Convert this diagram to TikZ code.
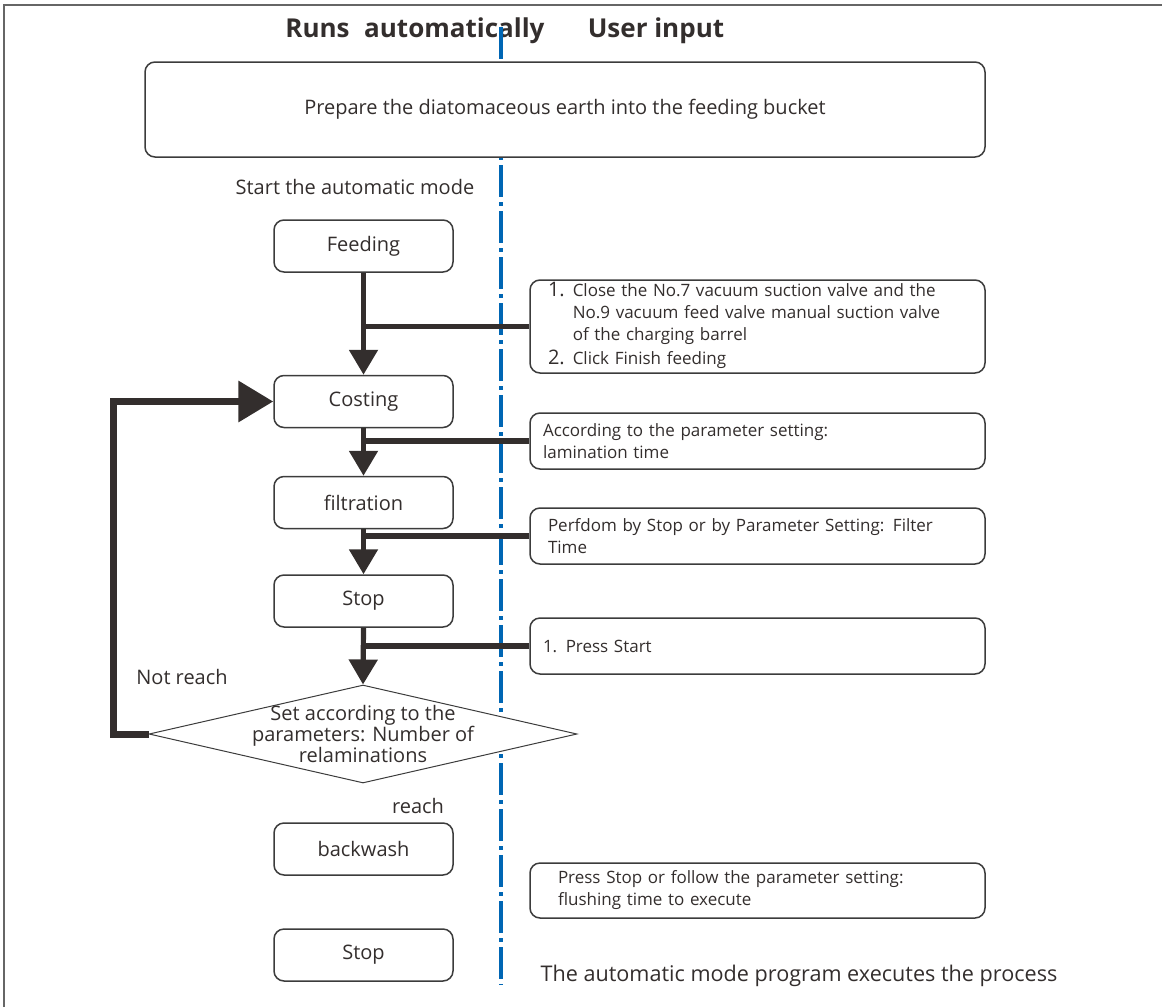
\documentclass[tikz,border=0pt]{standalone}
\usepackage{fontspec}
\setmainfont{Open Sans}
\usetikzlibrary{arrows.meta,shapes.geometric}
\definecolor{ink}{RGB}{51,46,45}
\definecolor{laneblue}{RGB}{0,102,180}
\definecolor{boxedge}{RGB}{60,60,60}
\begin{document}
\begin{tikzpicture}
[x=0.5pt,y=-0.5pt,
 every node/.style={font=\fontsize{10}{12}\selectfont,text=ink},
 head/.style={font=\fontsize{13}{15}\selectfont\bfseries},
 proc/.style={rectangle,rounded corners=5pt,draw=boxedge,line width=0.75pt,fill=white,
   minimum width=89.5pt,minimum height=26pt},
 note/.style={rectangle,rounded corners=5pt,draw=boxedge,line width=0.75pt,fill=white,
   minimum width=227.5pt,inner xsep=0pt,inner ysep=0pt,text width=#1,align=left,
   font=\fontsize{8.5}{11}\selectfont},
 decide/.style={diamond,draw=boxedge,line width=0.5pt,fill=white,inner sep=0pt,
   minimum width=214pt,minimum height=49pt},
 lane/.style={draw=laneblue,line width=2.2pt,dash pattern=on 16pt off 2.5pt on 2pt off 2.5pt},
 link/.style={draw=ink,line width=2.6pt},
 flow/.style={link,-{Triangle[width=14pt,length=12.5pt]}},
 back/.style={draw=ink,line width=3.5pt,-{Triangle[width=20pt,length=17.5pt]}}]
\useasboundingbox (0,0) rectangle (1162,1007);
\draw[gray!80!black,line width=1pt] (4,1007) -- (4,5) -- (1162,5);
\node [head] (hdrAuto) at (415,31) {Runs\hspace{0.3em} automatically};
\node [head] (hdrUser) at (656,31) {User input};
\coordinate (laneTop) at (501,27);
\coordinate (laneBot) at (501,985);
\draw[lane] (laneTop) -- (laneBot);
\node [rectangle,rounded corners=5pt,draw=boxedge,line width=0.75pt,fill=white,
  minimum width=420pt,minimum height=47.5pt] (prep) at (565,109.5)
  {Prepare the diatomaceous earth into the feeding bucket};
\node [] (startTxt) at (355,187) {Start the automatic mode};
\node [proc] (feed) at (363.5,246) {Feeding};
\node [proc] (cost) at (363.5,401.5) {Costing};
\node [proc] (filt) at (363.5,502.5) {filtration};
\node [proc] (stop) at (363.5,601) {Stop};
\node [decide,label={[name=decTxt,align=center,font=\fontsize{10}{10.5}\selectfont]center:Set according to the\\parameters: Number of\\relaminations}] (dec) at (363,734) {};
\node [proc] (wash) at (363.5,849) {backwash};
\node [proc] (stopEnd) at (363.5,955) {Stop};
\node [note=209.5pt,minimum height=46.5pt] (noteFeed) at (757.5,326.5)
  {\begin{tabular}{@{}l@{\hspace{4pt}}l@{}}
   {\fontsize{10}{11}\selectfont 1.} & Close the No.7 vacuum suction valve and the\\
   & No.9 vacuum feed valve manual suction valve\\
   & of the charging barrel\\[1pt]
   {\fontsize{10}{11}\selectfont 2.} & Click Finish feeding
   \end{tabular}};
\node [note=214.5pt,minimum height=28pt] (noteCost) at (757.5,441)
  {According to the parameter setting:\\lamination time};
\node [note=209.5pt,minimum height=28pt] (noteFilt) at (757.5,536)
  {Perfdom by Stop or by Parameter Setting: Filter\\Time};
\node [note=214.5pt,minimum height=28pt] (noteStop) at (757.5,646) {1. Press Start};
\node [note=199.5pt,minimum height=27.5pt] (noteWash) at (757.5,890.5)
  {Press Stop or follow the parameter setting:\\flushing time to execute};
\node [] (notReach) at (182,677) {Not reach};
\node [] (reach) at (418,806) {reach};
\node [font=\fontsize{10.8}{12}\selectfont] (endTxt) at (799,976)
  {The automatic mode program executes the process};
\draw[flow] (feed.south) -- (cost.north);
\draw[flow] (cost.south) -- (filt.north);
\draw[flow] (filt.south) -- (stop.north);
\draw[flow] (stop.south) -- (dec.north);
\draw[link] (noteFeed.west) -- (noteFeed.west -| feed.south);
\draw[link] (noteCost.west) -- (noteCost.west -| cost.south);
\draw[link] (noteFilt.west) -- (noteFilt.west -| filt.south);
\draw[link] (noteStop.west) -- (noteStop.west -| stop.south);
\coordinate (bend) at (113,734);
\draw[back] (dec.west) -- (bend) |- (cost.west);
\end{tikzpicture}
\end{document}
